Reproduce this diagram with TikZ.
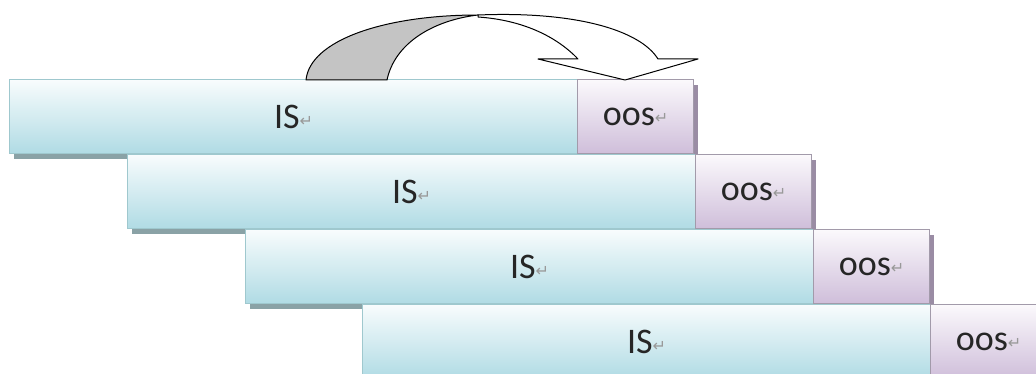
\documentclass[tikz,border=0pt]{standalone}
\usepackage{fontspec}
\setmainfont{Carlito}
\newfontfamily\symfont{DejaVu Sans}
\usetikzlibrary{shadows}
\definecolor{isTop}{HTML}{F8FCFD}
\definecolor{isBot}{HTML}{B0DBE4}
\definecolor{isLine}{HTML}{9FC8CE}
\definecolor{isShadow}{HTML}{8AA2A6}
\definecolor{oosTop}{HTML}{FBF9FC}
\definecolor{oosBot}{HTML}{CFBEDA}
\definecolor{oosLine}{HTML}{A29AAA}
\definecolor{oosShadow}{HTML}{9A8CA4}
\definecolor{arrowGray}{HTML}{C4C4C4}
\newcommand\retmark{{\symfont\color{gray!80}\fontsize{16}{16}\selectfont\raisebox{2pt}{↵}}}
\tikzset{
  bar/.style={rectangle, anchor=north west, inner sep=0pt, minimum height=74pt,
    line width=1.2pt, font=\fontsize{36}{40}\selectfont, text=black!85},
  isbar/.style={bar, draw=isLine, shading=axis, top color=isTop, bottom color=isBot,
    minimum width=568pt,
    general shadow={fill=isShadow, shadow xshift=4pt, shadow yshift=-5pt}},
  oosbar/.style={bar, draw=oosLine, shading=axis, top color=oosTop, bottom color=oosBot,
    minimum width=116pt,
    general shadow={fill=oosShadow, shadow xshift=4pt, shadow yshift=-5pt}},
  ribbon/.style={draw=black, line width=1pt, line join=round}
}
\begin{document}
\begin{tikzpicture}[x=1pt, y=-1pt]
\useasboundingbox (0,0) rectangle (1036,374);
\clip (0,0) rectangle (1036,374);
\fill[white] (0,0) rectangle (1036,374);
% row 1
\node[isbar] (is1) at (9,79) {IS\retmark};
\node[oosbar] (oos1) at (577,79) {oos\retmark};
% row 2
\node[isbar] (is2) at (127,154) {IS\retmark};
\node[oosbar] (oos2) at (695,154) {oos\retmark};
% row 3
\node[isbar] (is3) at (245,229) {IS\retmark};
\node[oosbar] (oos3) at (813,229) {oos\retmark};
% row 4
\node[isbar] (is4) at (362,304) {IS\retmark};
\node[oosbar] (oos4) at (930,304) {oos\retmark};
% curved arrow
\coordinate (a0) at (306,80);
\coordinate (a1) at (387,80);
\coordinate (top) at (478,15);
\coordinate (topi) at (478,17);
\coordinate (hl) at (538,59);
\coordinate (hi) at (578,59);
\coordinate (ho) at (658,59);
\coordinate (hr) at (698,59);
\coordinate (tip) at (625,80);
\draw[ribbon, fill=white] (top) .. controls (575,11) and (640,30) .. (ho) -- (hr) -- (tip) -- (hl) -- (hi)
  .. controls (556,36) and (522,20) .. (topi) -- cycle;
\draw[ribbon, fill=arrowGray] (a0) .. controls (310,40) and (385,15) .. (top)
  .. controls (435,20) and (395,42) .. (a1) -- cycle;
\end{tikzpicture}
\end{document}
